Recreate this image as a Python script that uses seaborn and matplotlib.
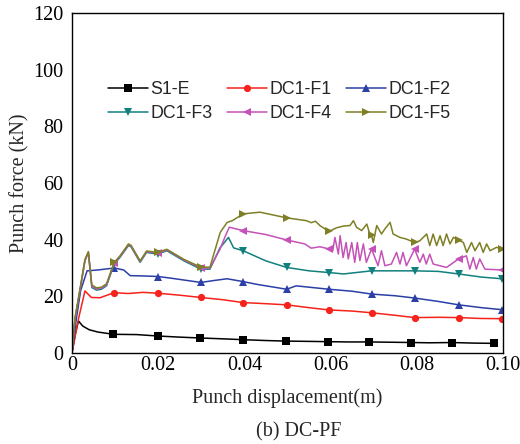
import numpy as np
import pandas as pd
import matplotlib
matplotlib.use("Agg")
import matplotlib.pyplot as plt
import seaborn as sns
from matplotlib.ticker import MultipleLocator

# ---------------- data ----------------
series_names = ["S1-E", "DC1-F1", "DC1-F2", "DC1-F3", "DC1-F4", "DC1-F5"]

s1e_x = [0, 0.0008, 0.0015, 0.0025, 0.004, 0.006, 0.0096, 0.015, 0.0199, 0.025, 0.0297,
         0.035, 0.0397, 0.045, 0.0497, 0.055, 0.0595, 0.064, 0.0688, 0.074, 0.0787,
         0.083, 0.0882, 0.093, 0.0978]
s1e_y = [0, 7.0, 11.3, 9.5, 8.2, 7.4, 6.6, 6.5, 6.0, 5.6, 5.3,
         5.0, 4.7, 4.4, 4.2, 4.1, 4.0, 3.9, 3.9, 3.8, 3.7,
         3.6, 3.7, 3.5, 3.4]

f1_x = [0, 0.0015, 0.003, 0.0045, 0.0065, 0.0098, 0.013, 0.0165, 0.0199, 0.025, 0.0299,
        0.035, 0.0397, 0.045, 0.0498, 0.055, 0.0596, 0.065, 0.0695, 0.075, 0.0795,
        0.085, 0.0897, 0.0945, 0.0997, 0.1]
f1_y = [0, 12.0, 21.9, 19.6, 19.5, 21.3, 21.0, 21.4, 21.1, 20.4, 19.6,
        18.8, 17.8, 17.4, 17.0, 16.0, 15.2, 14.8, 14.2, 13.3, 12.5,
        12.6, 12.5, 12.2, 12.1, 12.1]

f2_x = [0, 0.001, 0.002, 0.0035, 0.006, 0.0098, 0.012, 0.0135, 0.0165, 0.0199, 0.023,
        0.0299, 0.033, 0.036, 0.0397, 0.043, 0.0498, 0.052, 0.0596, 0.065, 0.0695,
        0.075, 0.0795, 0.085, 0.0897, 0.095, 0.0997, 0.1]
f2_y = [0, 12.0, 22.0, 29.0, 29.3, 30.0, 29.3, 27.3, 27.2, 27.0, 26.4,
        24.9, 25.6, 26.2, 25.2, 24.2, 22.5, 23.7, 22.5, 21.8, 20.8,
        20.2, 19.4, 18.2, 17.0, 16.0, 15.3, 15.2]

f3_x = [0, 0.0007, 0.0019, 0.003, 0.0038, 0.0046, 0.0057, 0.0068, 0.008, 0.0098, 0.0111,
        0.0131, 0.0137, 0.0158, 0.0173, 0.0199, 0.022, 0.026, 0.0299, 0.032, 0.0343,
        0.0363, 0.0375, 0.0397, 0.045, 0.0498, 0.055, 0.0596, 0.063, 0.0695, 0.075,
        0.0795, 0.085, 0.0897, 0.095, 0.0997, 0.1]
f3_y = [0, 12.0, 22.5, 32.6, 35.5, 23.1, 22.2, 22.5, 23.7, 31.4, 33.7,
        37.9, 37.5, 32.0, 35.5, 34.9, 36.1, 32.5, 29.6, 29.6, 37.0,
        40.8, 37.1, 36.1, 32.5, 30.2, 29.0, 28.4, 27.9, 29.0, 29.0,
        29.0, 28.8, 27.9, 26.8, 26.2, 26.1]

f4_x = [0, 0.0007, 0.0019, 0.003, 0.0038, 0.0046, 0.0057, 0.0068, 0.008, 0.0098, 0.0111,
        0.0131, 0.0137, 0.0158, 0.0173, 0.0199, 0.022, 0.026, 0.0299, 0.032, 0.0343,
        0.0355, 0.0365, 0.0397, 0.045, 0.0498, 0.054, 0.0555, 0.0575,
        0.0597, 0.0605, 0.0610, 0.0618, 0.0622, 0.0629, 0.0636, 0.0641, 0.0649, 0.0656,
        0.0662, 0.0668, 0.0676, 0.0683, 0.0695, 0.0710, 0.0718, 0.0726, 0.0741, 0.0753,
        0.0761, 0.0768, 0.0776, 0.0795, 0.0807, 0.0815, 0.0822, 0.0830, 0.0838, 0.0869,
        0.0897, 0.0915, 0.0923, 0.0931, 0.0938, 0.0946, 0.0958, 0.0997, 0.1]
f4_y = [0, 12.0, 22.5, 32.6, 35.5, 23.5, 22.6, 22.9, 24.0, 31.8, 34.0,
        38.2, 37.8, 32.3, 35.8, 35.2, 36.4, 32.8, 30.0, 30.0, 36.5,
        41.0, 44.4, 43.2, 41.8, 39.9, 38.5, 37.0, 37.5,
        36.7, 36.0, 40.8, 34.9, 41.4, 33.7, 39.0, 33.2, 39.0, 32.0,
        39.0, 32.6, 38.5, 32.0, 36.7, 30.8, 36.1, 30.8, 31.4, 35.5,
        31.4, 35.5, 30.8, 36.7, 32.0, 34.9, 31.4, 34.9, 31.4, 30.2,
        33.2, 34.3, 29.6, 33.7, 29.6, 33.2, 29.6, 29.3, 29.3]

f5_x = [0, 0.0007, 0.0019, 0.003, 0.0038, 0.0046, 0.0057, 0.0068, 0.008, 0.0098, 0.0111,
        0.0131, 0.0137, 0.0158, 0.0173, 0.0199, 0.022, 0.026, 0.0299, 0.032, 0.0344,
        0.0360, 0.0372, 0.0397, 0.0436, 0.0498, 0.0544, 0.0555, 0.0565, 0.0575, 0.0585,
        0.0596, 0.0614, 0.0630, 0.0645, 0.0653, 0.0660, 0.0672, 0.0684, 0.0691, 0.0695,
        0.0699, 0.0707, 0.0718, 0.0726, 0.0738, 0.0745, 0.0761, 0.0776, 0.0795, 0.0807,
        0.0823, 0.0830, 0.0838, 0.0846, 0.0854, 0.0861, 0.0869, 0.0877, 0.0885, 0.0897,
        0.0908, 0.0916, 0.0927, 0.0935, 0.0946, 0.0954, 0.0962, 0.0970, 0.0985, 0.0997, 0.1]
f5_y = [0, 12.5, 23.0, 33.0, 35.8, 24.0, 23.0, 23.2, 24.4, 32.0, 34.2,
        38.5, 38.0, 32.5, 36.0, 35.5, 36.6, 33.0, 30.3, 30.3, 42.6,
        46.1, 46.7, 49.1, 49.7, 47.7, 46.7, 46.0, 46.5, 45.0, 44.0,
        42.9, 44.2, 44.8, 45.0, 46.7, 44.4, 43.2, 45.5, 42.0, 41.5,
        39.0, 45.0, 42.0, 43.8, 46.1, 42.0, 40.8, 40.2, 39.0, 39.6,
        42.0, 37.9, 42.0, 37.9, 41.4, 37.9, 42.0, 38.5, 40.8, 39.9,
        39.0, 35.5, 39.0, 36.1, 39.0, 35.5, 38.5, 36.1, 37.3, 36.7, 36.7]

# x positions where symbols are drawn
marks_s1e = [0.0096, 0.0199, 0.0297, 0.0397, 0.0497, 0.0595, 0.0688, 0.0787, 0.0882, 0.0978]
marks_dc = [0.0098, 0.0199, 0.0299, 0.0397, 0.0498, 0.0596, 0.0695, 0.0795, 0.0897, 0.0997]

x_ticks = [0, 0.02, 0.04, 0.06, 0.08, 0.10]
x_tick_labels = ["0", "0.02", "0.04", "0.06", "0.08", "0.10"]
y_ticks = [0, 20, 40, 60, 80, 100, 120]

# ---------------- style ----------------
sns.set_style("white")
plt.rcParams["font.family"] = ["Liberation Serif", "DejaVu Serif"]

colors = ["#000000", "#f5231b", "#2b3fa6", "#12807e", "#c552b7", "#7f7f26"]
markers = ["s", "o", "^", "v", "<", ">"]

fig = plt.figure(figsize=(5.2, 4.44), dpi=100)
ax = fig.add_axes([72 / 520, 1 - 353 / 444, 431 / 520, 340 / 444])

data = [(s1e_x, s1e_y, marks_s1e), (f1_x, f1_y, marks_dc), (f2_x, f2_y, marks_dc),
        (f3_x, f3_y, marks_dc), (f4_x, f4_y, marks_dc), (f5_x, f5_y, marks_dc)]

for name, (xs, ys, mk), c, m in zip(series_names, data, colors, markers):
    df = pd.DataFrame({"x": xs, "y": ys})
    idx = [i for i, xv in enumerate(xs) if min(abs(xv - mv) for mv in mk) < 2e-4]
    sns.lineplot(data=df, x="x", y="y", ax=ax, color=c, marker=m, markevery=idx,
                 markersize=5.2, markeredgewidth=0, linewidth=1.1, label=name,
                 estimator=None, sort=False)

ax.set_xlim(0, 0.1)
ax.set_ylim(0, 120)
ax.set_xticks(x_ticks)
ax.set_xticklabels(x_tick_labels)
ax.set_yticks(y_ticks)
ax.xaxis.set_minor_locator(MultipleLocator(0.01))
ax.yaxis.set_minor_locator(MultipleLocator(10))
ax.tick_params(axis="both", which="both", direction="in", top=False, right=False,
               labelsize=14.5, colors="black")
ax.tick_params(axis="both", which="major", length=5, width=1)
ax.tick_params(axis="both", which="minor", length=3.5, width=1)
ax.tick_params(axis="x", which="major", pad=2)
ax.tick_params(axis="y", which="major", pad=6)
for sp in ax.spines.values():
    sp.set_visible(True)
    sp.set_color("black")
    sp.set_linewidth(1.0)

ax.set_xlabel("Punch displacement(m)", fontsize=14.5, labelpad=10)
ax.set_ylabel("Punch force (kN)", fontsize=14.5, labelpad=3)

# legend filled row by row (matplotlib fills column-wise)
handles, labels = ax.get_legend_handles_labels()
order = [0, 3, 1, 4, 2, 5]
leg = ax.legend([handles[i] for i in order], [labels[i] for i in order],
                loc="upper left", bbox_to_anchor=(0.083, 0.80), ncol=3, frameon=False,
                prop={"family": "Liberation Sans", "size": 12.8},
                handlelength=2.25, handletextpad=0.15, columnspacing=0.8,
                labelspacing=0.42, borderpad=0, borderaxespad=0)

fig.text(0.575, 1 - 432 / 444, "(b) DC-PF", ha="center", va="center", fontsize=14.5)

fig.savefig("out.png", dpi=100, facecolor="white")
